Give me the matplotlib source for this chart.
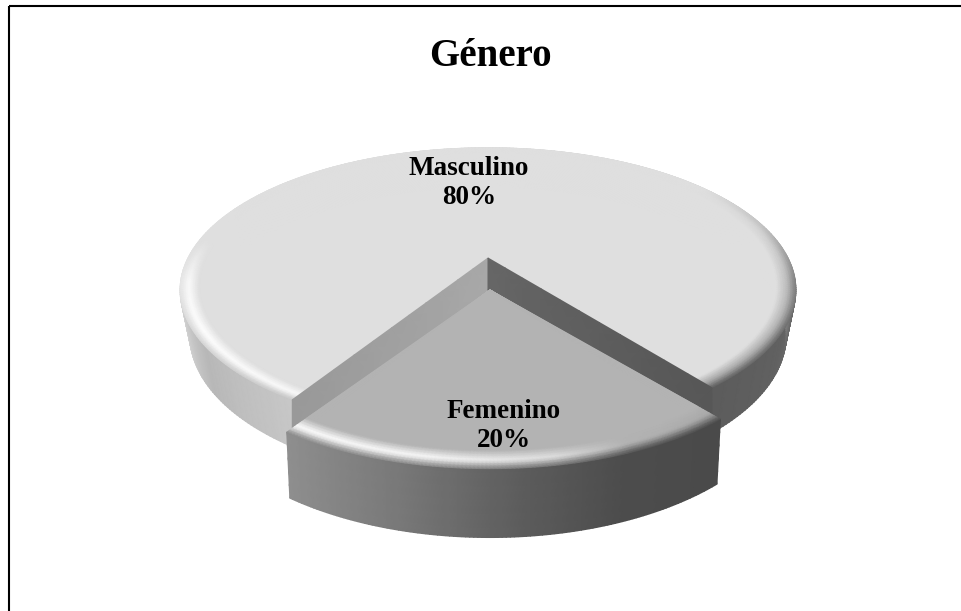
import numpy as np
import matplotlib
matplotlib.use("Agg")
import matplotlib.pyplot as plt
from matplotlib.patches import Rectangle

# ---- data ----
title = "Género"
labels = ["Masculino", "Femenino"]
values = [80, 20]

# ---- styles ----
plt.rcParams['font.family'] = ['Liberation Serif', 'DejaVu Serif']
W, H = 962, 611
CENTER_DEG = 3.0      # direction of small slice (0 = towards viewer)
CUT_INSET = 1.15      # main pie cut is slightly narrower than the slice
fig = plt.figure(figsize=(W / 100, H / 100), dpi=100)
ax = fig.add_axes([0, 0, 1, 1])
ax.set_xlim(0, W)
ax.set_ylim(H, 0)
ax.axis('off')

MAIN = dict(cx=488, cy=258, A=300, B=135, k=0.225)
SLICE = dict(cx=490, cy=290, A=295, B=134, k=0.25)


def project(p, phi_deg, r, z):
    """phi 0 = towards viewer, increasing to the right; z = depth below top."""
    phi = np.radians(phi_deg)
    u, v = r * np.sin(phi), -r * np.cos(phi)
    w = 1 + p['k'] * v
    return p['cx'] + p['A'] * u / w, p['cy'] - p['B'] * v / w + z / w


def mesh(X, Y, C, zo):
    ax.pcolormesh(X, Y, C, shading='gouraud', cmap='gray', vmin=0, vmax=1,
                  zorder=zo, antialiased=True)


def side(p, phi, depth, shrink, stops_phi, stops_c, zo):
    zs = np.linspace(0, depth, 6)
    P, Z = np.meshgrid(phi, zs, indexing='ij')
    X, Y = project(p, P, 1.0 - shrink * Z / depth, Z)
    c = np.interp(phi, stops_phi, stops_c)
    C = np.repeat(c[:, None], len(zs), axis=1)
    mesh(X, Y, C, zo)


def top(p, phi, r0, base, mid_phi, mid_c, edge_phi, edge_c, zo):
    rs = np.concatenate([[0.0], np.linspace(r0, 1.0, 9)])
    P, R = np.meshgrid(phi, rs, indexing='ij')
    X, Y = project(p, P, R, 0.0)
    mid = np.interp(phi, mid_phi, mid_c)
    edge = np.interp(phi, edge_phi, edge_c)
    C = np.zeros_like(X)
    for j, rv in enumerate(rs):
        t = max(0.0, (rv - r0) / (1 - r0))
        C[:, j] = np.where(t < 0.55, base + (mid - base) * (t / 0.55),
                           mid + (edge - mid) * ((t - 0.55) / 0.45))
    mesh(X, Y, C, zo)


def wall(p, phi, depth, c_apex, c_rim, zo):
    rs = np.linspace(0, 1, 12)
    zs = np.array([0.0, depth])
    R, Z = np.meshgrid(rs, zs, indexing='ij')
    X, Y = project(p, phi, R, Z)
    C = np.repeat((c_apex + (c_rim - c_apex) * rs)[:, None], 2, axis=1)
    mesh(X, Y, C, zo)


# angles derive from the values
sweep_small = 360 * values[1] / sum(values)
s0 = CENTER_DEG - sweep_small / 2
s1 = CENTER_DEG + sweep_small / 2
m0 = s1 - CUT_INSET
m1 = s0 + 360 + CUT_INSET
phi_main = np.linspace(m0, m1, 361)
phi_slice = np.linspace(s0, s1, 121)

# main pie
side(MAIN, phi_main, 45, 0.03,
     [m0, 60, 75, 90, 105, 130, 230, 270, 285, 305, m1],
     [0.36, 0.38, 0.42, 0.60, 0.70, 0.75, 0.85, 0.90, 0.86, 0.72, 0.78], 1)
top(MAIN, phi_main, 0.94, 0.872,
    [m0, 60, 80, 105, 125, 262, 280, 300, m1],
    [0.66, 0.70, 0.74, 0.84, 0.872, 0.872, 0.98, 1.0, 0.98],
    [m0, 60, 80, 105, 125, 262, 280, 300, m1],
    [0.38, 0.42, 0.50, 0.76, 0.872, 0.872, 0.90, 0.84, 0.78], 2)
wall(MAIN, m1, 32, 0.66, 0.60, 3)
wall(MAIN, m0, 32, 0.40, 0.34, 3)

# small slice
side(SLICE, phi_slice, 54, 0.012,
     [s0, -15, 5, 20, s1],
     [0.56, 0.48, 0.36, 0.30, 0.29], 4)
top(SLICE, phi_slice, 0.92, 0.70,
    [s0, -10, 10, 22, s1],
    [1.0, 0.98, 0.88, 0.70, 0.66],
    [s0, -10, 10, 22, s1],
    [0.55, 0.55, 0.45, 0.33, 0.30], 5)

# frame
ax.add_patch(Rectangle((9.5, 5.5), W + 10, H, fill=False, edgecolor='black',
                       linewidth=1.5, zorder=6))

# text
ax.text(490, 56, title, ha='center', va='center', fontsize=28,
        fontweight='bold', zorder=7)
ax.text(469, 183, f"{labels[0]}\n{values[0]}%", ha='center', va='center',
        fontsize=19.5, fontweight='bold', linespacing=1.25, zorder=7)
ax.text(504, 426, f"{labels[1]}\n{values[1]}%", ha='center', va='center',
        fontsize=19.5, fontweight='bold', linespacing=1.25, zorder=7)

fig.savefig("out.png", dpi=100, facecolor='white')
